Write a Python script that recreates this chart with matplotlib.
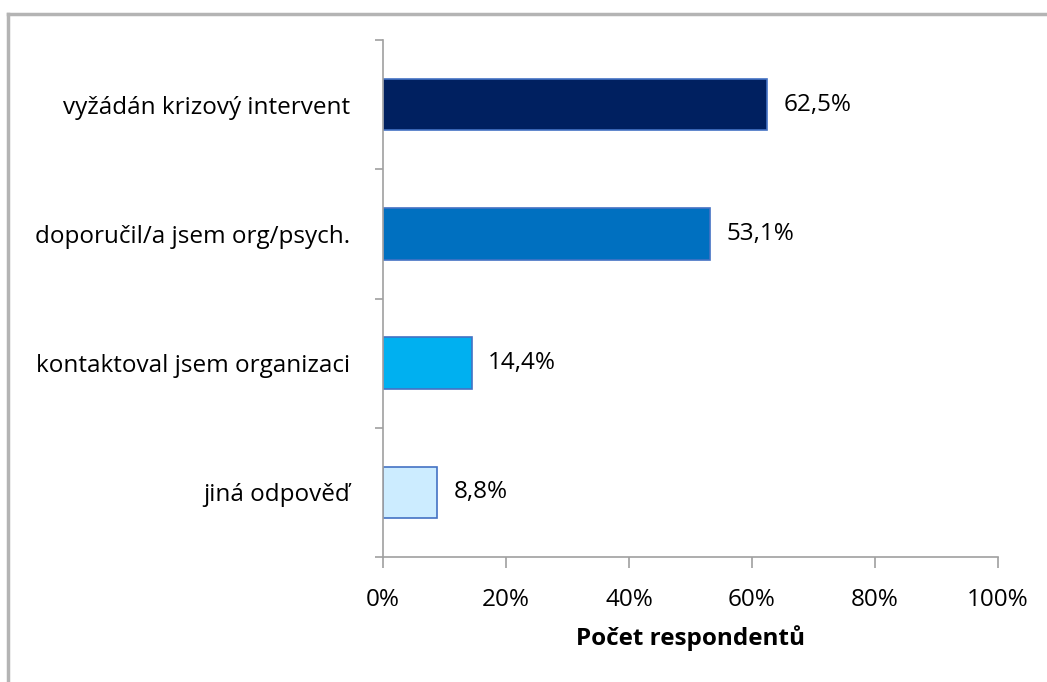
import matplotlib.pyplot as plt
from matplotlib.lines import Line2D

categories = ["vyžádán krizový intervent", "doporučil/a jsem org/psych.",
              "kontaktoval jsem organizaci", "jiná odpověď"]
values = [62.5, 53.1, 14.4, 8.8]
value_labels = ["62,5%", "53,1%", "14,4%", "8,8%"]
bar_colors = ["#002060", "#0070C0", "#00B0F0", "#CCECFF"]
x_ticks = [0, 20, 40, 60, 80, 100]
x_tick_labels = ["0%", "20%", "40%", "60%", "80%", "100%"]
x_title = "Počet respondentů"

plt.rcParams['font.family'] = ['Open Sans', 'DejaVu Sans']
FS = 17.5

W, H = 1047, 682
fig = plt.figure(figsize=(W / 100, H / 100), dpi=100)
ax = fig.add_axes([383 / W, 1 - 557 / H, (998 - 383) / W, (557 - 40) / H])

ypos = list(range(len(categories)))[::-1]
ax.barh(ypos, values, height=0.4, color=bar_colors, edgecolor="#4472C4", linewidth=1.2, zorder=2)
for y, v, lab in zip(ypos, values, value_labels):
    ax.text(v + 2.7, y, lab, va="center", ha="left", fontsize=FS, color="black")

ax.set_xlim(0, 100)
ax.set_ylim(-0.5, len(categories) - 0.5)
ax.set_xticks(x_ticks)
ax.set_xticklabels(x_tick_labels, fontsize=FS)
ax.set_yticks(ypos)
ax.set_yticklabels(categories, fontsize=FS)
ax.set_yticks([i - 0.5 for i in range(len(categories) + 1)], minor=True)

for s in ["top", "right"]:
    ax.spines[s].set_visible(False)
for s in ["left", "bottom"]:
    ax.spines[s].set_color("#A0A0A0")
    ax.spines[s].set_linewidth(1.2)

ax.tick_params(axis="y", which="major", length=0, pad=24)
ax.tick_params(axis="y", which="minor", length=6, color="#A0A0A0", width=1.2)
ax.tick_params(axis="x", length=8, color="#A0A0A0", width=1.2, pad=14)

ax.set_xlabel(x_title, fontsize=FS, fontweight="bold", labelpad=10)

# outer frame around the chart area
frame_kw = dict(color="#B4B4B4", linewidth=2.5, transform=fig.transFigure)
fig.add_artist(Line2D([7.5 / W, 7.5 / W], [0, 1 - 13.5 / H], **frame_kw))
fig.add_artist(Line2D([7.5 / W, 1], [1 - 13.5 / H, 1 - 13.5 / H], **frame_kw))

fig.savefig("out.png", dpi=100)
